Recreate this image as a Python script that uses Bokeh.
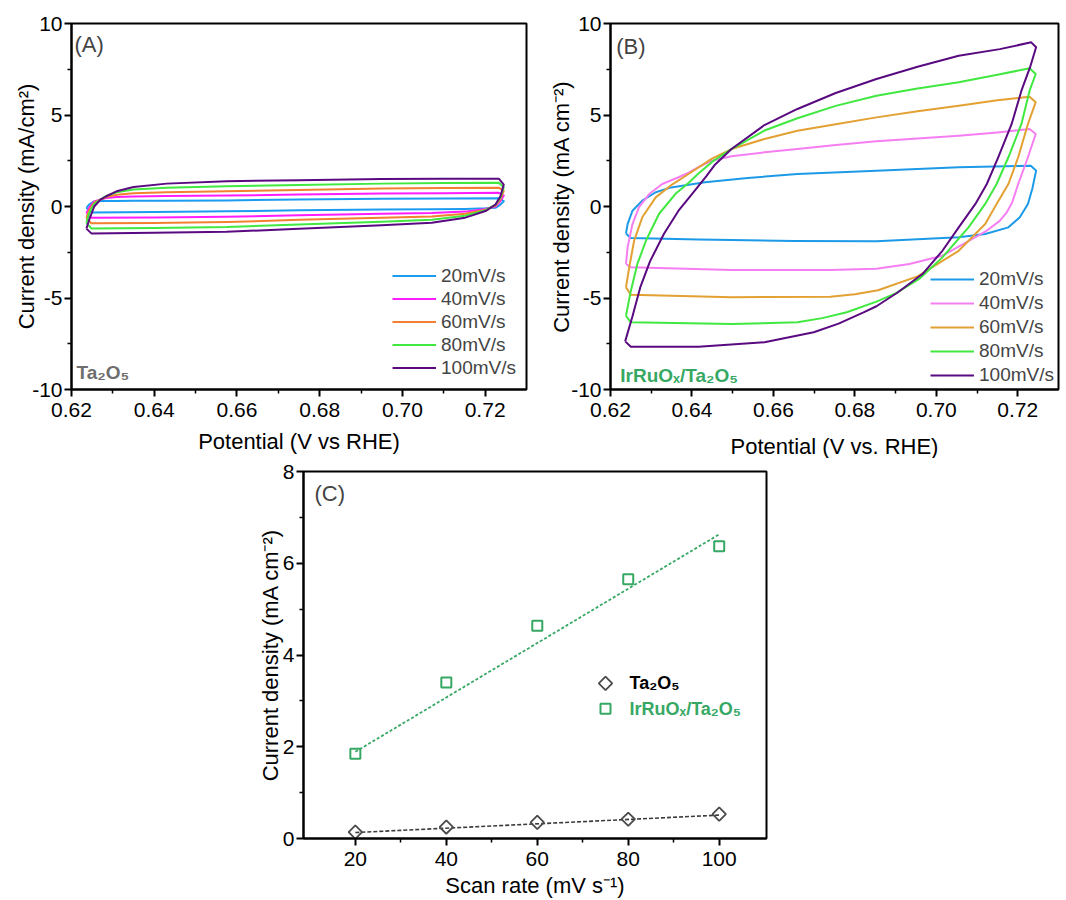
from bokeh.plotting import figure
from bokeh.layouts import column, row
from bokeh.models import (FixedTicker, PrintfTickFormatter, Legend, LegendItem,
                          Label, Range1d, Spacer)
from bokeh.embed import file_html
from bokeh.resources import INLINE

FONT = "Liberation Sans"

# ---------------- data ----------------
rates = ["20mV/s", "40mV/s", "60mV/s", "80mV/s", "100mV/s"]

# Panel A (Ta2O5) cyclic voltammograms: shared potential path (closed loop)
A_E = [0.6236, 0.6243, 0.6255, 0.6270, 0.6284, 0.6309, 0.6350, 0.6430, 0.6575, 0.6750,
       0.6950, 0.7100, 0.7233, 0.7245, 0.7237, 0.7225, 0.7201, 0.7152, 0.7071, 0.6950,
       0.6750, 0.6575, 0.6400, 0.6248, 0.6236]
A_J20 = [-0.07, 0.12, 0.28, 0.30, 0.30, 0.30, 0.31, 0.32, 0.33, 0.38, 0.43, 0.44, 0.45,
         0.29, 0.10, -0.07, -0.10, -0.13, -0.15, -0.16, -0.21, -0.26, -0.30, -0.33, -0.07]
A_J40 = [-0.36, -0.05, 0.28, 0.38, 0.46, 0.52, 0.55, 0.58, 0.60, 0.65, 0.71, 0.73, 0.75,
         0.60, 0.30, 0.00, -0.13, -0.28, -0.36, -0.40, -0.48, -0.56, -0.60, -0.62, -0.36]
A_J60 = [-0.62, -0.20, 0.22, 0.38, 0.52, 0.64, 0.72, 0.78, 0.83, 0.90, 0.98, 1.01, 1.03,
         0.85, 0.40, 0.05, -0.17, -0.40, -0.54, -0.61, -0.73, -0.85, -0.90, -0.92, -0.62]
A_J80 = [-0.89, -0.35, 0.15, 0.38, 0.58, 0.78, 0.93, 1.02, 1.10, 1.18, 1.25, 1.28, 1.30,
         1.05, 0.50, 0.10, -0.20, -0.50, -0.73, -0.83, -0.98, -1.12, -1.17, -1.20, -0.89]
A_J100 = [-1.21, -0.71, 0.00, 0.38, 0.56, 0.83, 1.07, 1.25, 1.38, 1.44, 1.50, 1.51, 1.52,
          1.20, 0.56, 0.11, -0.25, -0.61, -0.89, -1.02, -1.22, -1.38, -1.43, -1.47, -1.21]

# Panel B (IrRuOx/Ta2O5) cyclic voltammograms (closed loops)
B_E20 = [0.6238, 0.6242, 0.6254, 0.6278, 0.6311, 0.6345, 0.6432, 0.6537, 0.6659, 0.6853,
         0.7055, 0.7232, 0.7245, 0.7236, 0.7225, 0.7205, 0.7177, 0.7120, 0.7055, 0.6853,
         0.6650, 0.6416, 0.6250, 0.6238]
B_J20 = [-1.47, -0.96, -0.23, 0.32, 0.78, 1.02, 1.32, 1.56, 1.78, 1.96, 2.14, 2.23, 1.96,
         1.00, 0.14, -0.59, -1.14, -1.50, -1.68, -1.90, -1.88, -1.80, -1.72, -1.47]
B_E40 = [0.6238, 0.6242, 0.6254, 0.6270, 0.6295, 0.6327, 0.6367, 0.6392, 0.6416, 0.6448,
         0.6497, 0.6578, 0.6659, 0.6753, 0.6853, 0.6954, 0.7055, 0.7150, 0.7229, 0.7244,
         0.7225, 0.7201, 0.7186, 0.7172, 0.7155, 0.7125, 0.7096, 0.7015, 0.6934, 0.6853,
         0.6740, 0.6497, 0.6250, 0.6238]
B_J40 = [-3.14, -2.23, -0.96, -0.04, 0.68, 1.23, 1.60, 1.85, 2.15, 2.50, 2.75, 2.96, 3.14,
         3.36, 3.56, 3.72, 3.87, 4.05, 4.23, 3.96, 2.69, 1.23, 0.20, -0.35, -0.80, -1.30,
         -1.68, -2.69, -3.14, -3.40, -3.47, -3.47, -3.32, -3.14]
B_E60 = [0.6238, 0.6246, 0.6258, 0.6278, 0.6311, 0.6351, 0.6400, 0.6448, 0.6497, 0.6578,
         0.6659, 0.6753, 0.6853, 0.6954, 0.7055, 0.7150, 0.7229, 0.7244, 0.7225, 0.7201,
         0.7177, 0.7148, 0.7120, 0.7055, 0.6954, 0.6857, 0.6800, 0.6740, 0.6497, 0.6250,
         0.6238]
B_J60 = [-4.42, -3.32, -1.87, -0.59, 0.50, 1.20, 1.90, 2.60, 3.14, 3.69, 4.14, 4.50, 4.87,
         5.20, 5.51, 5.80, 6.00, 5.70, 4.51, 2.69, 1.23, 0.14, -0.96, -2.42, -3.82, -4.58,
         -4.80, -4.93, -4.96, -4.82, -4.42]
B_E80 = [0.6238, 0.6250, 0.6266, 0.6287, 0.6319, 0.6359, 0.6392, 0.6416, 0.6450, 0.6497,
         0.6578, 0.6659, 0.6753, 0.6853, 0.6954, 0.7055, 0.7150, 0.7229, 0.7244, 0.7229,
         0.7209, 0.7177, 0.7148, 0.7120, 0.7079, 0.7015, 0.6958, 0.6900, 0.6853, 0.6780,
         0.6720, 0.6659, 0.6497, 0.6250, 0.6238]
B_J80 = [-5.97, -4.60, -3.14, -1.87, -0.41, 0.68, 1.30, 1.80, 2.45, 3.14, 4.15, 4.82, 5.50,
         6.05, 6.45, 6.79, 7.20, 7.55, 7.24, 6.33, 4.51, 2.69, 1.23, 0.14, -1.14, -2.78,
         -3.96, -4.75, -5.20, -5.78, -6.10, -6.33, -6.42, -6.33, -5.97]
B_E100 = [0.6236, 0.6254, 0.6273, 0.6297, 0.6331, 0.6367, 0.6400, 0.6435, 0.6457, 0.6497,
          0.6578, 0.6659, 0.6753, 0.6853, 0.6954, 0.7055, 0.7156, 0.7233, 0.7245, 0.7230,
          0.7209, 0.7185, 0.7152, 0.7124, 0.7096, 0.7055, 0.7015, 0.6966, 0.6905, 0.6853,
          0.6820, 0.6760, 0.6699, 0.6578, 0.6416, 0.6250, 0.6236]
B_J100 = [-7.37, -6.00, -4.42, -3.00, -1.50, -0.23, 0.68, 1.65, 2.30, 3.14, 4.45, 5.33,
          6.20, 6.97, 7.64, 8.24, 8.60, 8.97, 8.70, 7.60, 6.33, 4.51, 2.69, 1.23, 0.14,
          -1.14, -2.42, -3.69, -4.70, -5.45, -5.80, -6.40, -6.87, -7.42, -7.66, -7.66, -7.37]

# Panel C: current density vs scan rate
scan_rate = [20, 40, 60, 80, 100]
ta2o5 = [0.14, 0.25, 0.35, 0.42, 0.53]
irruox = [1.85, 3.40, 4.64, 5.65, 6.37]
fit_x = [20, 100]
ta2o5_fit = [0.13, 0.51]
irruox_fit = [1.89, 6.63]
series_names = ["Ta₂O₅", "IrRuOₓ/Ta₂O₅"]

# ---------------- styling helpers ----------------
A_COLORS = ["#1c9cf0", "#ff1cff", "#f28030", "#40e840", "#5a0a80"]
B_COLORS = ["#1c9ae8", "#f57ff2", "#e3a033", "#40e840", "#5a0a80"]
GREEN = "#37a864"
DIAMOND_COLOR = "#4a4a4a"


def style_axes(p, xt, xminor, yt, yminor, xfmt, yfmt, ylab_standoff, xlab_standoff):
    p.xaxis[0].ticker = FixedTicker(ticks=xt, minor_ticks=xminor)
    p.yaxis[0].ticker = FixedTicker(ticks=yt, minor_ticks=yminor)
    p.xaxis[0].formatter = PrintfTickFormatter(format=xfmt)
    p.yaxis[0].formatter = PrintfTickFormatter(format=yfmt)
    for ax in (p.xaxis[0], p.yaxis[0]):
        ax.axis_line_width = 2
        ax.axis_line_color = "black"
        ax.major_tick_line_width = 2
        ax.minor_tick_line_width = 1.5
        ax.major_tick_out = 7
        ax.major_tick_in = 0
        ax.minor_tick_out = 4
        ax.minor_tick_in = 0
        ax.major_label_text_font = FONT
        ax.major_label_text_font_size = "21px"
        ax.major_label_text_color = "black"
        ax.axis_label_text_font = FONT
        ax.axis_label_text_font_size = "22px"
        ax.axis_label_text_font_style = "normal"
        ax.axis_label_text_color = "black"
    p.yaxis[0].major_label_standoff = 2
    p.xaxis[0].major_label_standoff = 6
    p.yaxis[0].axis_label_standoff = ylab_standoff
    p.xaxis[0].axis_label_standoff = xlab_standoff
    p.xgrid.visible = False
    p.ygrid.visible = False
    p.outline_line_color = "black"
    p.outline_line_width = 2
    p.outline_line_alpha = 1
    p.background_fill_color = "white"
    p.border_fill_color = "white"


def make_fig(xr, yr, fw, fh, left, right, top, bottom, xlabel, ylabel):
    return figure(x_range=Range1d(*xr), y_range=Range1d(*yr),
                  frame_width=fw, frame_height=fh,
                  min_border_left=left, min_border_right=right,
                  min_border_top=top, min_border_bottom=bottom,
                  x_axis_label=xlabel, y_axis_label=ylabel,
                  output_backend="svg", toolbar_location=None)


cv_x_ticks = [0.62, 0.64, 0.66, 0.68, 0.70, 0.72]
cv_x_minor = [0.63, 0.65, 0.67, 0.69, 0.71]
cv_y_ticks = [-10, -5, 0, 5, 10]
cv_y_minor = [-7.5, -2.5, 2.5, 7.5]

# ---------------- Panel A ----------------
pA = make_fig((0.62, 0.73), (-10, 10), 455, 366, 71, 14, 23, 69,
              "Potential (V vs RHE)", "Current density (mA/cm²)")
style_axes(pA, cv_x_ticks, cv_x_minor, cv_y_ticks, cv_y_minor, "%.2f", "%d", -10, 9)
A_J = [A_J20, A_J40, A_J60, A_J80, A_J100]
itemsA = []
for lab, col, jj in zip(rates, A_COLORS, A_J):
    r = pA.line(A_E, jj, line_color=col, line_width=2, line_join="round")
    itemsA.append(LegendItem(label=lab, renderers=[r]))
legA = Legend(items=itemsA, location=(321, 10), border_line_color=None,
              background_fill_alpha=0, padding=0, margin=0, spacing=0,
              glyph_width=44, glyph_height=23, label_height=23, label_standoff=5,
              label_text_font=FONT, label_text_font_size="19px")
pA.add_layout(legA)
pA.add_layout(Label(x=0.6207, y=8.84, text="(A)", text_font=FONT, text_font_size="22px",
                    text_baseline="middle", text_align="left"))
pA.add_layout(Label(x=0.6212, y=-9.07, text="Ta₂O₅", text_font=FONT, text_font_size="19px",
                    text_font_style="bold", text_color="#6e6e6e",
                    text_baseline="middle", text_align="left"))

# ---------------- Panel B ----------------
pB = make_fig((0.62, 0.73), (-10, 10), 448, 366, 70, 6, 20, 72,
              "Potential (V vs. RHE)", "Current density (mA cm⁻²)")
style_axes(pB, cv_x_ticks, cv_x_minor, cv_y_ticks, cv_y_minor, "%.2f", "%d", -6, 14)
B_E = [B_E20, B_E40, B_E60, B_E80, B_E100]
B_J = [B_J20, B_J40, B_J60, B_J80, B_J100]
itemsB = []
for lab, col, ee, jj in zip(rates, B_COLORS, B_E, B_J):
    r = pB.line(ee, jj, line_color=col, line_width=2, line_join="round")
    itemsB.append(LegendItem(label=lab, renderers=[r]))
legB = Legend(items=itemsB, location=(320, 2), border_line_color=None,
              background_fill_alpha=0, padding=0, margin=0, spacing=0,
              glyph_width=44, glyph_height=24, label_height=24, label_standoff=5,
              label_text_font=FONT, label_text_font_size="19px")
pB.add_layout(legB)
pB.add_layout(Label(x=0.6214, y=8.77, text="(B)", text_font=FONT, text_font_size="22px",
                    text_baseline="middle", text_align="left"))
pB.add_layout(Label(x=0.6224, y=-9.22, text="IrRuOₓ/Ta₂O₅", text_font=FONT,
                    text_font_size="19px", text_font_style="bold", text_color=GREEN,
                    text_baseline="middle", text_align="left"))

# ---------------- Panel C ----------------
pC = make_fig((8.6, 110.4), (0, 8), 463, 367, 55, 10, 13, 60,
              "Scan rate (mV s⁻¹)", "Current density (mA cm⁻²)")
style_axes(pC, [20, 40, 60, 80, 100], [30, 50, 70, 90], [0, 2, 4, 6, 8], [1, 3, 5, 7],
           "%d", "%d", -3, 4)
pC.line(fit_x, ta2o5_fit, line_color="#3c3c3c", line_width=1.6, line_dash="4 2")
pC.line(fit_x, irruox_fit, line_color=GREEN, line_width=1.8, line_dash="3 2")
pC.scatter(scan_rate, ta2o5, marker="square", angle=0.785398, size=9.5,
           fill_color=None, line_color=DIAMOND_COLOR, line_width=1.8)
pC.scatter(scan_rate, irruox, marker="square", size=10,
           fill_color=None, line_color=GREEN, line_width=2)

# legend of panel C (keys drawn as the same markers, placed in the empty area)
LEG_X, LEG_TX, LEG_Y1, LEG_Y2 = 75.0, 80.3, 3.38, 2.83
pC.scatter([LEG_X], [LEG_Y1], marker="square", angle=0.785398, size=9.5,
           fill_color=None, line_color=DIAMOND_COLOR, line_width=1.8)
pC.scatter([LEG_X], [LEG_Y2], marker="square", size=10,
           fill_color=None, line_color=GREEN, line_width=2)
pC.add_layout(Label(x=LEG_TX, y=LEG_Y1, text=series_names[0], text_font=FONT,
                    text_font_size="18px", text_font_style="bold", text_color="black",
                    text_baseline="middle", text_align="left"))
pC.add_layout(Label(x=LEG_TX, y=LEG_Y2, text=series_names[1], text_font=FONT,
                    text_font_size="18px", text_font_style="bold", text_color=GREEN,
                    text_baseline="middle", text_align="left"))
pC.add_layout(Label(x=11.0, y=7.53, text="(C)", text_font=FONT, text_font_size="22px",
                    text_baseline="middle", text_align="left"))

layout = column(row(pA, pB), row(Spacer(width=248, height=440), pC))

with open("out.html", "w") as f:
    f.write(file_html(layout, INLINE, title="CV scan-rate study"))
